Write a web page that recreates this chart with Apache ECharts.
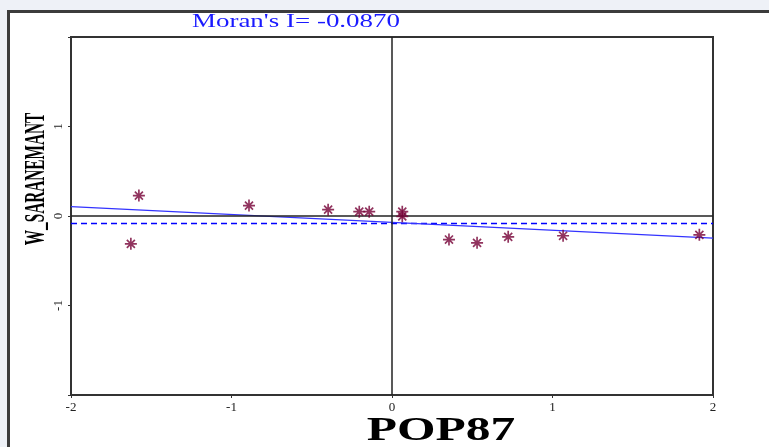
<!DOCTYPE html>
<html>
<head>
<meta charset="utf-8">
<script src="https://cdn.jsdelivr.net/npm/echarts@6/dist/echarts.min.js"></script>
<style>
    html, body {margin: 0; padding: 0; background: #eef1f7;}
    #moran_scatter {width: 769px; height: 447px;}
</style>
</head>
<body>
<div id="moran_scatter"></div>
<script>
//***************数据*************************
var pop87 = [-1.577, -1.627, -0.891, -0.398, -0.204, -0.142, 0.064, 0.064, 0.355, 0.53, 0.724, 1.066, 1.915];
var w_saranemant = [0.228, -0.311, 0.116, 0.071, 0.048, 0.048, 0.048, -0.004, -0.263, -0.30, -0.233, -0.221, -0.21];
var reg_x = [-2, 2];
var reg_y = [0.105, -0.247];
var expected_i = -0.0833;
var x_ticks = [-2, -1, 0, 1, 2];
var y_ticks = [-2, -1, 0, 1, 2];
var moran_title = "Moran's I= -0.0870";

//***************获取元素*************************
var moran_scatter_dom = document.getElementById("moran_scatter");
var moran_scatter_chart = echarts.init(moran_scatter_dom);

// 星号标记
var star_path = 'path://M0 8.6H20V11.4H0Z M8.6 0H11.4V20H8.6Z M2.3 4.3L4.3 2.3L17.7 15.7L15.7 17.7Z M15.7 2.3L17.7 4.3L4.3 17.7L2.3 15.7Z M6.5 6.5H13.5V13.5H6.5Z';

var points = pop87.map(function (x, i) {
    return [x, w_saranemant[i]];
});
var reg_line = reg_x.map(function (x, i) {
    return [x, reg_y[i]];
});
var expected_line = reg_x.map(function (x) {
    return [x, expected_i];
});

var serif = '"Liberation Serif", "DejaVu Serif", serif';

//*************绘图************************************
moran_scatter_chart.setOption({
    animation: false,
    backgroundColor: '#eef1f7',
    graphic: [
        {
            type: 'rect', z: -10,
            shape: {x: 8.5, y: 11.5, width: 800, height: 500},
            style: {fill: '#ffffff', stroke: '#3c3c3c', lineWidth: 3}
        },
        {
            type: 'text', x: 296, y: 22, scaleX: 1.42,
            style: {text: moran_title, fill: '#1a1aff', font: '19px ' + serif, textAlign: 'center', textVerticalAlign: 'middle'}
        },
        {
            type: 'text', x: 441, y: 431, scaleX: 1.5,
            style: {text: 'POP87', fill: '#000', font: 'bold 33px ' + serif, textAlign: 'center', textVerticalAlign: 'middle'}
        },
        {
            type: 'text', x: 36, y: 179, rotation: Math.PI / 2, scaleX: 0.51,
            style: {text: 'W_SARANEMANT', fill: '#000', font: 'bold 30px ' + serif, textAlign: 'center', textVerticalAlign: 'middle'}
        }
    ],
    grid: {
        left: 71, right: 56, top: 37, bottom: 52,
        show: true, borderColor: '#333', borderWidth: 2, backgroundColor: '#fff'
    },
    xAxis: {
        type: 'value', min: x_ticks[0], max: x_ticks[x_ticks.length - 1], interval: 1,
        axisLine: {onZero: false, lineStyle: {color: '#333', width: 2}},
        axisTick: {length: 3, lineStyle: {color: '#333'}},
        axisLabel: {color: '#222', fontFamily: serif, fontSize: 13, margin: 6},
        splitLine: {show: false}
    },
    yAxis: {
        type: 'value', min: y_ticks[0], max: y_ticks[y_ticks.length - 1], interval: 1,
        axisLine: {onZero: false, lineStyle: {color: '#333', width: 2}},
        axisTick: {length: 3, lineStyle: {color: '#333'}},
        axisLabel: {
            color: '#222', fontFamily: serif, fontSize: 13, rotate: 90, margin: 6,
            formatter: function (v) {
                return (v === 1 || v === 0 || v === -1) ? String(v) : '';
            }
        },
        splitLine: {show: false}
    },
    series: [
        {
            name: 'zero',
            type: 'line',
            data: [],
            markLine: {
                silent: true,
                symbol: 'none',
                label: {show: false},
                lineStyle: {color: '#222', width: 1.5, type: 'solid'},
                data: [{xAxis: 0}, {yAxis: 0}]
            }
        },
        {
            name: 'expected',
            type: 'line',
            data: expected_line,
            symbol: 'none',
            color: '#0000ff',
            lineStyle: {color: '#0000ff', width: 1.5, type: [6, 4]},
            z: 3
        },
        {
            name: 'regression',
            type: 'line',
            data: reg_line,
            symbol: 'none',
            color: '#3333ff',
            lineStyle: {color: '#3333ff', width: 1.3},
            z: 3
        },
        {
            name: 'points',
            type: 'scatter',
            data: points,
            symbol: star_path,
            symbolSize: 12,
            itemStyle: {color: '#760036'},
            z: 5
        }
    ]
});
</script>
</body>
</html>
